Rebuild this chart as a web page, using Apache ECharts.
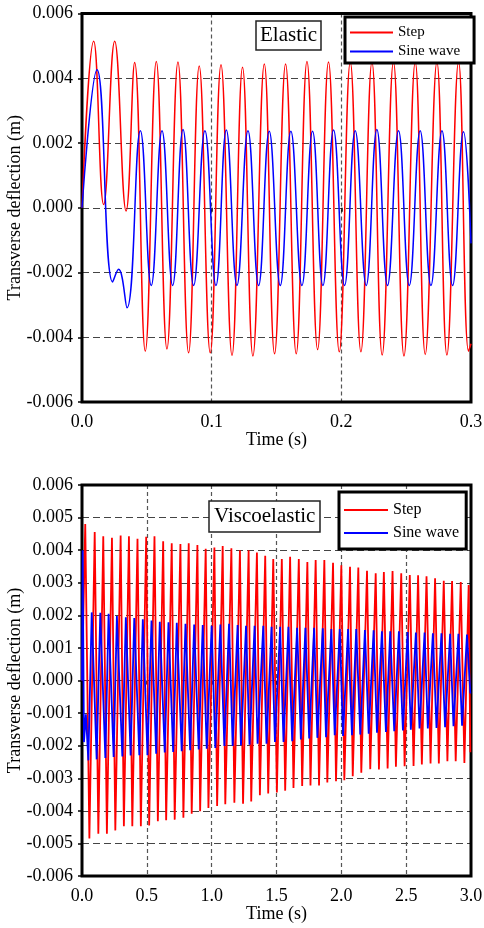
<!DOCTYPE html>
<html><head><meta charset="utf-8">
<script src="https://cdn.jsdelivr.net/npm/echarts@6/dist/echarts.min.js"></script>
<style>html,body{margin:0;padding:0;background:#fff}#c{width:484px;height:928px}</style>
</head><body><div id="c"></div>
<script>
// ---- Elastic (top) ----
const elasticXTicks = ['0.0','0.1','0.2','0.3'];
const elasticStepT = [0,0.009,0.0167,0.0252,0.034,0.0406,0.0488,0.0573,0.0655,0.0740,0.0822,0.0904,0.0989,0.1072,0.1157,0.1238,0.1318,0.1406,0.1485,0.1570,0.1652,0.1735,0.1817,0.1901,0.1984,0.2069,0.2151,0.2236,0.2315,0.2402,0.2483,0.2570,0.2647,0.2737,0.2814,0.2904,0.2981,0.3];
const elasticStepY = [0,0.00514,0.0001,0.00514,-0.0001,0.00449,-0.00443,0.00452,-0.00436,0.0045,-0.00448,0.00438,-0.00448,0.00442,-0.00456,0.00434,-0.00458,0.00444,-0.00451,0.00444,-0.00451,0.00452,-0.00438,0.0045,-0.00445,0.0045,-0.00445,0.0045,-0.00455,0.0045,-0.00458,0.0045,-0.00453,0.0045,-0.00455,0.0045,-0.00443,-0.0042];
const elasticSineT = [0,0.0116,0.0236,0.0282,0.0347,0.045,0.0534,0.0617,0.0699,0.0779,0.0861,0.0948,0.1033,0.1113,0.1195,0.1280,0.1362,0.1444,0.1529,0.1611,0.1696,0.1778,0.1858,0.1940,0.2025,0.2107,0.2192,0.2274,0.2356,0.2441,0.2524,0.2608,0.2691,0.2776,0.2858,0.2942,0.3];
const elasticSineY = [0,0.00426,-0.00229,-0.0019,-0.00309,0.00238,-0.0024,0.00238,-0.0024,0.00242,-0.0024,0.00238,-0.0024,0.0024,-0.0024,0.00238,-0.0024,0.00236,-0.0024,0.00236,-0.0024,0.00236,-0.0024,0.0024,-0.0024,0.00238,-0.0024,0.00242,-0.0024,0.00238,-0.0024,0.00238,-0.0024,0.00238,-0.0024,0.00235,-0.0011];

// ---- Viscoelastic (bottom) ----
const viscoStepT = [0,0.025,0.057,0.098,0.126,0.164,0.192,0.231,0.257,0.298,0.323,0.362,0.388,0.428,0.454,0.495,0.518,0.559,0.585,0.626,0.649,0.692,0.715,0.759,0.782,0.823,0.846,0.890,0.911,0.954,0.975,1.021,1.042,1.085,1.105,1.152,1.175,1.218,1.242,1.285,1.305,1.349,1.372,1.413,1.436,1.475,1.503,1.541,1.567,1.605,1.631,1.672,1.698,1.738,1.762,1.802,1.828,1.869,1.892,1.936,1.959,2.000,2.023,2.067,2.088,2.131,2.154,2.198,2.223,2.265,2.290,2.328,2.357,2.395,2.421,2.462,2.488,2.528,2.557,2.592,2.621,2.657,2.688,2.723,2.752,2.790,2.818,2.854,2.882,2.921,2.949,2.982,2.995];
const viscoStepY = [0,0.0048,-0.00485,0.00456,-0.0047,0.00443,-0.0047,0.00438,-0.0046,0.00445,-0.00447,0.00443,-0.00447,0.00435,-0.00447,0.00441,-0.00445,0.00443,-0.00432,0.00427,-0.00429,0.00421,-0.00427,0.00419,-0.00421,0.00421,-0.00409,0.00416,-0.00401,0.00404,-0.00391,0.00408,-0.00385,0.00413,-0.0038,0.00406,-0.00375,0.0040,-0.00378,0.0040,-0.00371,0.00393,-0.00352,0.00383,-0.00347,0.00373,-0.00344,0.00373,-0.00338,0.0038,-0.0033,0.00373,-0.00324,0.00364,-0.00322,0.0037,-0.00322,0.0037,-0.00313,0.00361,-0.00309,0.00354,-0.00306,0.00349,-0.00294,0.00347,-0.00283,0.00337,-0.00272,0.00329,-0.00273,0.00333,-0.0027,0.00336,-0.00265,0.00329,-0.00263,0.00324,-0.00262,0.00323,-0.00258,0.0032,-0.00255,0.00314,-0.00255,0.00306,-0.00248,0.00305,-0.00248,0.00302,-0.00253,0.00293,-0.0022];
const viscoSineT = [0,0.005,0.015,0.03,0.049,0.075,0.113,0.141,0.180,0.205,0.244,0.269,0.311,0.338,0.375,0.403,0.442,0.469,0.505,0.536,0.572,0.600,0.638,0.667,0.703,0.731,0.769,0.798,0.834,0.865,0.900,0.931,0.962,1.000,1.028,1.067,1.098,1.134,1.162,1.200,1.226,1.265,1.292,1.331,1.354,1.398,1.423,1.462,1.488,1.528,1.554,1.592,1.621,1.659,1.688,1.723,1.752,1.790,1.815,1.857,1.882,1.923,1.949,1.988,2.013,2.052,2.082,2.115,2.146,2.182,2.211,2.249,2.275,2.313,2.344,2.377,2.408,2.444,2.475,2.511,2.536,2.575,2.603,2.642,2.667,2.706,2.734,2.772,2.800,2.839,2.865,2.903,2.931,2.969,2.995];
const viscoSineY = [0,0.0040,-0.00189,-0.00104,-0.00245,0.00209,-0.00242,0.00208,-0.00238,0.00205,-0.00235,0.00198,-0.00233,0.00194,-0.0023,0.00192,-0.00229,0.00188,-0.00229,0.00184,-0.00225,0.0018,-0.00221,0.00179,-0.00219,0.00177,-0.00217,0.00174,-0.00214,0.00172,-0.00212,0.0017,-0.00209,0.00168,-0.00207,0.00172,-0.00201,0.00174,-0.00201,0.0017,-0.00199,0.00168,-0.00197,0.00168,-0.00194,0.00168,-0.00194,0.00165,-0.00189,0.00165,-0.00189,0.00165,-0.00186,0.00162,-0.00181,0.00162,-0.00178,0.00162,-0.00176,0.0016,-0.00174,0.00158,-0.00168,0.00158,-0.0017,0.00158,-0.00168,0.00158,-0.00166,0.00155,-0.00163,0.00154,-0.0016,0.00151,-0.00158,0.00151,-0.00156,0.00151,-0.00153,0.00149,-0.00151,0.00147,-0.00147,0.00147,-0.00147,0.00145,-0.00146,0.00145,-0.00143,0.00143,-0.0014,0.00143,-0.00139,0.00141,-0.0004];

const seriesNames = ['Step','Sine wave'];
const panelTitles = ['Elastic','Viscoelastic'];
const xAxisName = 'Time (s)';
const yAxisName = 'Transverse deflection (m)';

const zip = (t, y) => t.map((v, i) => [v, y[i]]);
const FONT = 'Liberation Serif';
const RED = '#ff0000', BLUE = '#0000ff';

function xAxisCfg(idx, max, interval, decimals) {
  return {
    type: 'value', gridIndex: idx, min: 0, max: max, interval: interval,
    name: xAxisName, nameLocation: 'middle', nameGap: 29, nameMoveOverlap: false,
    nameTextStyle: {fontFamily: FONT, fontSize: 18, color: '#000'},
    axisLine: {show: false},
    axisTick: {show: true, length: 4, lineStyle: {color: '#000', width: 1.5}},
    axisLabel: {fontFamily: FONT, fontSize: 18, color: '#000', margin: 11,
      formatter: v => v.toFixed(decimals)},
    splitLine: {show: true, showMinLine: false, showMaxLine: false,
      lineStyle: {color: '#555', width: 1.2, type: [4, 3]}}
  };
}
function yAxisCfg(idx, interval) {
  return {
    type: 'value', gridIndex: idx, min: -0.006, max: 0.006, interval: interval,
    name: yAxisName, nameLocation: 'middle', nameGap: 58, nameMoveOverlap: false,
    nameTextStyle: {fontFamily: FONT, fontSize: 18, color: '#000'},
    axisLine: {show: false},
    axisTick: {show: true, length: 4, lineStyle: {color: '#000', width: 1.5}},
    axisLabel: {fontFamily: FONT, fontSize: 18, color: '#000', margin: 9,
      formatter: v => v.toFixed(3)},
    splitLine: {show: true, showMinLine: false, showMaxLine: false,
      lineStyle: {color: '#444', width: 1.2, type: [7, 4]}}
  };
}
function legendCfg(idx, left, top, fontSize, padding, gap, iw) {
  return {
    orient: 'vertical', left: left, top: top, padding: padding, itemGap: gap,
    itemWidth: iw, itemHeight: 2, icon: 'rect',
    data: seriesNames,
    textStyle: {fontFamily: FONT, fontSize: fontSize, color: '#000'},
    borderColor: '#000', borderWidth: 3, backgroundColor: '#fff', selectedMode: false
  };
}
function titleCfg(text, left, top, pad) {
  return {
    text: text, left: left, top: top, padding: pad,
    borderColor: '#222', borderWidth: 1.5, backgroundColor: '#fff',
    textStyle: {fontFamily: FONT, fontSize: 21, fontWeight: 'normal', color: '#000'}
  };
}
function lineSeries(name, color, idx, data, smooth, width) {
  return {
    type: 'line', name: name, xAxisIndex: idx, yAxisIndex: idx, data: data,
    showSymbol: false, symbol: 'none', smooth: smooth, color: color,
    lineStyle: {color: color, width: width}, clip: true, animation: false
  };
}

const chart = echarts.init(document.getElementById('c'), null, {renderer: 'canvas'});
chart.setOption({
  animation: false,
  backgroundColor: '#fff',
  title: [titleCfg(panelTitles[0], 256, 21, [4, 4, 4, 4]), titleCfg(panelTitles[1], 209, 501, [5, 5, 5, 5])],
  legend: [legendCfg(0, 345, 17, 15, [8, 14, 4, 5], 4, 43), legendCfg(1, 339, 492, 16, [10, 7, 8, 5], 7, 44)],
  grid: [
    {left: 82, top: 13.5, width: 389, height: 388.5, show: true, z: 3, borderColor: '#000', borderWidth: 3, backgroundColor: 'transparent', containLabel: false, outerBoundsMode: 'none'},
    {left: 82, top: 485, width: 389, height: 391, show: true, z: 3, borderColor: '#000', borderWidth: 3, backgroundColor: 'transparent', containLabel: false, outerBoundsMode: 'none'}
  ],
  xAxis: [xAxisCfg(0, 0.3, 0.1, 1), xAxisCfg(1, 3.0, 0.5, 1)],
  yAxis: [yAxisCfg(0, 0.002), yAxisCfg(1, 0.001)],
  series: [
    lineSeries(seriesNames[0], RED, 0, zip(elasticStepT, elasticStepY), 0.45, 1.5),
    lineSeries(seriesNames[1], BLUE, 0, zip(elasticSineT, elasticSineY), 0.45, 1.5),
    lineSeries(seriesNames[0], RED, 1, zip(viscoStepT, viscoStepY), false, 1.8),
    lineSeries(seriesNames[1], BLUE, 1, zip(viscoSineT, viscoSineY), false, 1.8)
  ]
});
</script>
</body></html>
